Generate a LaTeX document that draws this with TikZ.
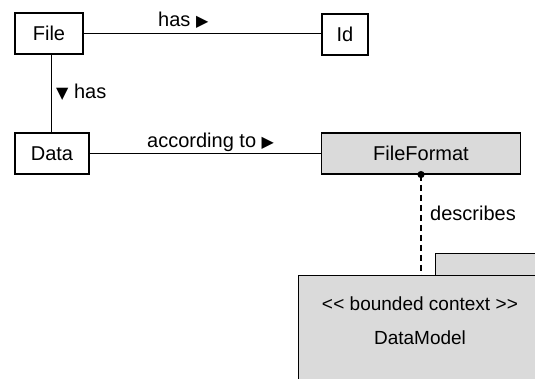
\documentclass[tikz,border=0pt]{standalone}
\usepackage{fontspec}
\setmainfont{Liberation Sans}
\newfontfamily\symfont{DejaVu Sans}
\definecolor{boxgrey}{RGB}{218,218,218}
\begin{document}
\begin{tikzpicture}[x=1pt,y=-1pt,
  every node/.style={font=\fontsize{20}{24}\selectfont, inner sep=0pt},
  cls/.style={draw=black, line width=1.1pt, minimum height=41pt},
  greycls/.style={cls, fill=boxgrey},
  lbl/.style={font=\fontsize{20}{24}\selectfont},
  conn/.style={line width=0.9pt}]
\clip (0,0) rectangle (535,378);
\useasboundingbox (0,0) rectangle (535,378);
\fill[white] (0,0) rectangle (535,378);
% nodes
\node[cls, minimum width=68pt] (file) at (49,33.5) {File};
\node[cls, minimum width=46pt] (id) at (345,34.5) {Id};
\node[cls, minimum width=74pt] (data) at (52,153.5) {Data};
\node[greycls, minimum width=199pt] (ff) at (421,153.5) {FileFormat};
% package
\node[draw=black, line width=1.1pt, fill=boxgrey, minimum width=120pt, minimum height=40pt, anchor=north west] (tab) at (435,253) {};
\node[draw=black, line width=1.1pt, fill=boxgrey, minimum width=262pt, minimum height=150pt, anchor=north west] (dm) at (298,275) {};
\node[align=center, font=\fontsize{19}{34}\selectfont] (ctx) at (420,321) {<\kern0.3pt< bounded context >\kern0.3pt>\\DataModel};
% connectors
\draw[conn] (file.east) -- (file.east -| id.west);
\draw[conn] (file.south -| 51,0) -- (data.north -| 51,0);
\draw[conn] (data.east) -- (data.east -| ff.west);
\draw[line width=1.1pt, dash pattern=on 6pt off 4pt] (ff.south) -- (ff.south |- dm.north);
\fill (ff.south) circle (3.6pt);
% labels
\node[lbl, anchor=west] (l1) at (158,20) {has {\symfont\fontsize{16}{18}\selectfont ▶}};
\node[lbl, anchor=west] (l2) at (56,92) {{\symfont\fontsize{16}{18}\selectfont ▼} has};
\node[lbl, anchor=west] (l3) at (147,142) {according to {\symfont\fontsize{16}{18}\selectfont ▶}};
\node[lbl, anchor=west] (l4) at (430,213) {describes};
\end{tikzpicture}
\end{document}
